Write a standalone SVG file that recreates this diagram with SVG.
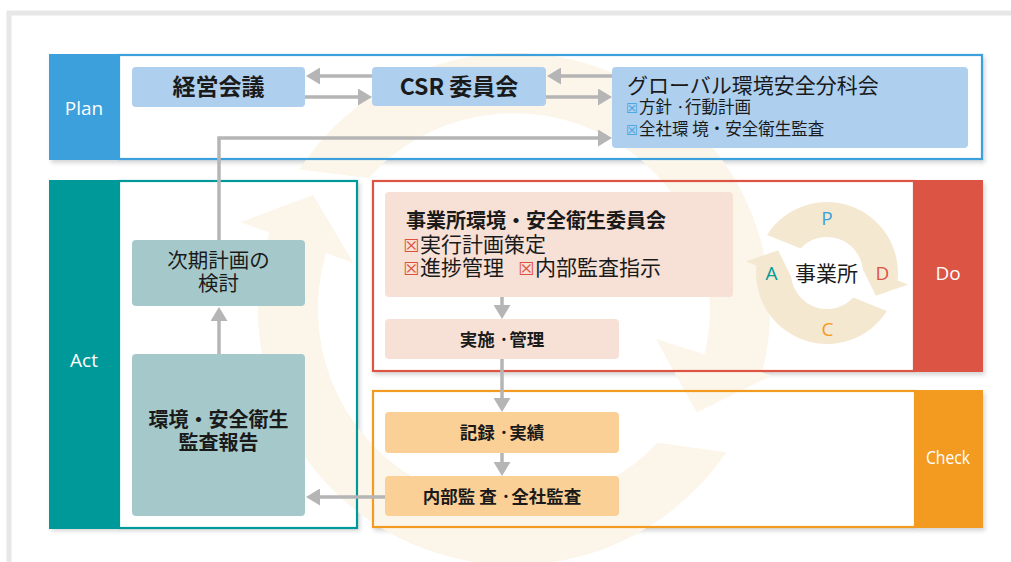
<svg xmlns="http://www.w3.org/2000/svg" width="1011" height="562" viewBox="0 0 1011 562">
<defs>
<filter id="sh" x="-5%" y="-5%" width="112%" height="120%"><feDropShadow dx="2" dy="3" stdDeviation="2" flood-color="#000" flood-opacity="0.16"/></filter>
<marker id="ah" markerWidth="14" markerHeight="17" refX="0" refY="8.5" orient="auto" markerUnits="userSpaceOnUse"><path d="M0,0 L14,8.5 L0,17 Z" fill="#b5b5b5"/></marker>
</defs>
<style>
.jp{font-family:"Noto Sans CJK JP","Noto Sans",sans-serif;fill:#1a1a1a}
.b{font-weight:bold}
.mid{text-anchor:middle}
.lbl{font-family:"Open Sans","Noto Sans",sans-serif;fill:#fff;font-size:19px;text-anchor:middle}
.con{fill:none;stroke:#b5b5b5;stroke-width:3.5;marker-end:url(#ah)}
.pl{fill:#aecfee}
.ac{fill:#a5c9cb}
.dn{fill:#f7e1d7}
.ck{fill:#fad096}
.ring{fill:#fcf5e9}
.sring{fill:#f5e8d1}
.icb{font-family:"DejaVu Sans",sans-serif;fill:#3ba0dc;font-size:13px}
.icr{font-family:"DejaVu Sans",sans-serif;fill:#e0503f;font-size:18px}
.pd{font-family:"Open Sans","Noto Sans",sans-serif;font-size:19px;text-anchor:middle}
</style>
<rect width="1011" height="562" fill="#fff"/>
<rect x="9" y="13" width="1100" height="600" fill="none" stroke="#e7e7e7" stroke-width="5"/>

<g id="panel-shadows">
<rect x="49" y="54" width="934" height="106" fill="#fff" filter="url(#sh)"/>
<rect x="49" y="180" width="309" height="348" fill="#fff" filter="url(#sh)"/>
<rect x="372" y="180" width="611" height="192" fill="#fff" filter="url(#sh)"/>
<rect x="372" y="390" width="611" height="138" fill="#fff" filter="url(#sh)"/>
</g>

<g id="pdca-cycle">
<path class="ring" d="M299.3,169.6 A256,256 0 0 1 762.0,372.6 L771.5,375.6 L696.8,412.4 L655.8,339.1 L704.6,354.5 A196,196 0 0 0 368.4,177.9 Z"/>
<path class="ring" d="M726.2,452.2 A256,256 0 0 1 269.6,232.7 L240.4,222.2 L313.1,194.9 L353.5,263.0 L326.1,253.1 A196,196 0 0 0 657.4,442.7 Z"/>
</g>

<g id="plan">
<rect x="119" y="55" width="863" height="104" fill="none" stroke="#3ba0dc" stroke-width="2.2"/>
<rect x="49" y="54" width="70" height="106" fill="#3ba0dc"/>
<text class="lbl" x="84" y="115">Plan</text>
</g>
<g id="act">
<rect x="119" y="181" width="238" height="347" fill="none" stroke="#00999a" stroke-width="2.2"/>
<rect x="49" y="180" width="70" height="349" fill="#00999a"/>
<text class="lbl" x="84" y="367">Act</text>
</g>
<g id="do">
<rect x="373" y="181" width="541" height="190" fill="none" stroke="#dc5444" stroke-width="2.2"/>
<rect x="914" y="180" width="69" height="192" fill="#dc5444"/>
<text class="lbl" x="948" y="280">Do</text>
</g>
<g id="check">
<rect x="373" y="391" width="542" height="136" fill="none" stroke="#f39a21" stroke-width="2.2"/>
<rect x="915" y="390" width="68" height="138" fill="#f39a21"/>
<text class="lbl" x="948" y="464" textLength="44" lengthAdjust="spacingAndGlyphs">Check</text>
</g>

<g id="connectors">
<path class="con" d="M372,76 H320"/>
<path class="con" d="M305,97 H358"/>
<path class="con" d="M612,76 H561"/>
<path class="con" d="M546,97 H598"/>
<path class="con" d="M219,240 V138 H598"/>
<path class="con" d="M219,354 V321"/>
<path class="con" d="M502,297 V305"/>
<path class="con" d="M502,359 V398"/>
<path class="con" d="M502,453 V462"/>
<path class="con" d="M385,497 H320"/>
</g>

<g id="n-keiei">
<rect class="pl" x="132" y="67" width="173" height="40" rx="4"/>
<text class="jp b mid" x="218.5" y="95" font-size="23">経営会議</text>
</g>
<g id="n-csr">
<rect class="pl" x="372" y="67" width="174" height="39" rx="4"/>
<text class="jp b mid" x="459" y="95" font-size="23">CSR 委員会</text>
</g>
<g id="n-global">
<rect class="pl" x="612" y="67" width="356" height="81" rx="4"/>
<text class="jp" x="627" y="93" font-size="21">グローバル環境安全分科会</text>
<text class="icb" x="626" y="113">☒</text>
<text class="jp" x="639" y="113" font-size="16.5">方針 ·行動計画</text>
<text class="icb" x="626" y="135">☒</text>
<text class="jp" x="639" y="135" font-size="16.5">全社環 境・安全衛生監査</text>
</g>
<g id="n-jiki">
<rect class="ac" x="132" y="240" width="173" height="66" rx="4"/>
<text class="jp mid" x="218.5" y="268" font-size="20.5">次期計画の</text>
<text class="jp mid" x="218.5" y="291" font-size="20.5">検討</text>
</g>
<g id="n-kankyo">
<rect class="ac" x="132" y="354" width="173" height="162" rx="4"/>
<text class="jp b mid" x="218.5" y="427" font-size="20">環境・安全衛生</text>
<text class="jp b mid" x="218.5" y="450" font-size="20">監査報告</text>
</g>
<g id="n-jigyo">
<rect class="dn" x="385" y="192" width="348" height="105" rx="4"/>
<text class="jp b" x="406" y="228" font-size="20">事業所環境・安全衛生委員会</text>
<text class="icr" x="403" y="252">☒</text>
<text class="jp" x="420" y="252" font-size="21">実行計画策定</text>
<text class="icr" x="403" y="275">☒</text>
<text class="jp" x="420" y="275" font-size="21">進捗管理</text>
<text class="icr" x="518" y="275">☒</text>
<text class="jp" x="535" y="275" font-size="21">内部監査指示</text>
</g>
<g id="n-jisshi">
<rect class="dn" x="385" y="319" width="234" height="40" rx="4"/>
<text class="jp b mid" x="502" y="346" font-size="17.5">実施 ·管理</text>
</g>
<g id="n-kiroku">
<rect class="ck" x="385" y="412" width="234" height="41" rx="4"/>
<text class="jp b mid" x="502" y="439" font-size="17.5">記録 ·実績</text>
</g>
<g id="n-naibu">
<rect class="ck" x="385" y="476" width="234" height="40" rx="4"/>
<text class="jp b mid" x="502" y="503" font-size="17.5">内部監 査 ·全社監査</text>
</g>
<g id="n-jigyosho-cycle">
<path class="sring" d="M767.1,234.9 A71,71 0 0 1 897.6,280.4 L908.2,284.4 L875.9,295.8 L862.8,269.2 A36,36 0 0 0 800.7,248.4 Z"/>
<path class="sring" transform="rotate(180 827 273)" d="M767.1,234.9 A71,71 0 0 1 897.6,280.4 L908.2,284.4 L875.9,295.8 L862.8,269.2 A36,36 0 0 0 800.7,248.4 Z"/>
<text class="pd" x="827" y="225" fill="#3ba0dc">P</text>
<text class="pd" x="882.5" y="280" fill="#dc5444">D</text>
<text class="pd" x="827.5" y="336" fill="#f39a21">C</text>
<text class="pd" x="771.5" y="280" fill="#00999a">A</text>
<text class="jp mid" x="826.5" y="281" font-size="21">事業所</text>
</g>
</svg>
